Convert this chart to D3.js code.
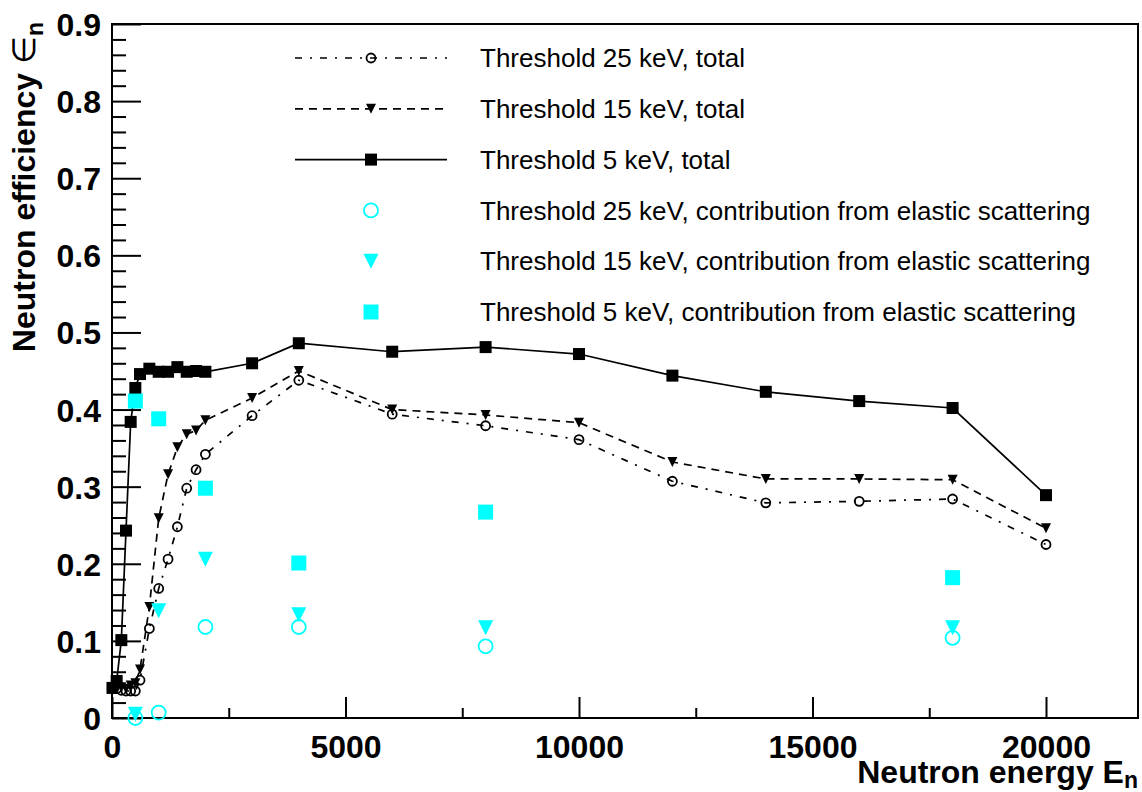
<!DOCTYPE html>
<html>
<head>
<meta charset="utf-8">
<script src="https://cdn.jsdelivr.net/npm/d3@7"></script>
<style>
    body { margin: 0; background: #fff; }
    svg { display: block; font-family: "Liberation Sans", Arial, Helvetica, sans-serif; }
</style>
</head>
<body>
<svg id="chart"></svg>
<script>
// neutron energies (keV) shared by the three "total" curves
const energies = [10, 100, 200, 300, 400, 500, 600, 800, 1000, 1200, 1400, 1600, 1800, 2000,
    3000, 4000, 6000, 8000, 10000, 12000, 14000, 16000, 18000, 20000];
const total25 = [0.038, 0.038, 0.036, 0.035, 0.035, 0.035, 0.049, 0.116, 0.168, 0.206, 0.248, 0.298, 0.322, 0.342,
    0.392, 0.438, 0.394, 0.379, 0.361, 0.307, 0.279, 0.281, 0.284, 0.225];
const total15 = [0.040, 0.040, 0.040, 0.038, 0.042, 0.045, 0.063, 0.144, 0.259, 0.316, 0.351, 0.368, 0.373, 0.386,
    0.415, 0.450, 0.400, 0.393, 0.383, 0.332, 0.310, 0.310, 0.309, 0.246];
const total5 = [0.039, 0.048, 0.101, 0.243, 0.384, 0.428, 0.446, 0.453, 0.449, 0.449, 0.455, 0.449, 0.450, 0.449,
    0.460, 0.486, 0.475, 0.481, 0.472, 0.444, 0.423, 0.411, 0.402, 0.289];

// elastic scattering contributions
const elasticEnergies = [500, 1000, 2000, 4000, 8000, 18000];
const elastic25 = [0.000, 0.007, 0.118, 0.118, 0.093, 0.104];
const elastic15 = [0.005, 0.139, 0.206, 0.134, 0.117, 0.117];
const elastic5 = [0.411, 0.388, 0.298, 0.201, 0.267, 0.182];

const legendLabels = [
    "Threshold 25 keV, total",
    "Threshold 15 keV, total",
    "Threshold 5 keV, total",
    "Threshold 25 keV, contribution from elastic scattering",
    "Threshold 15 keV, contribution from elastic scattering",
    "Threshold 5 keV, contribution from elastic scattering"
];

const xTicks = [0, 5000, 10000, 15000, 20000];
const yTicks = [0, 0.1, 0.2, 0.3, 0.4, 0.5, 0.6, 0.7, 0.8, 0.9];

const width = 1142, height = 792;
const frame = { left: 112, right: 1138, top: 24, bottom: 718 };
const cyan = "#00ffff";

const svg = d3.select("#chart").attr("width", width).attr("height", height);
svg.append("rect").attr("width", width).attr("height", height).attr("fill", "#fff");

const x = d3.scaleLinear().domain([0, 21970]).range([frame.left, frame.right]);
const y = d3.scaleLinear().domain([0, 0.9]).range([frame.bottom, frame.top]);

// ---- axes, ticks pointing inside like ROOT
const xAxis = svg.append("g").attr("transform", `translate(0, ${frame.bottom})`);
xAxis.call(d3.axisBottom(x).tickValues(xTicks).tickSize(-21).tickPadding(17).tickFormat(d3.format("d")));
const xMinor = svg.append("g").attr("transform", `translate(0, ${frame.bottom})`);
xMinor.call(d3.axisBottom(x).tickValues(d3.range(2500, 21970, 5000)).tickSize(-10).tickFormat(""));

const yAxis = svg.append("g").attr("transform", `translate(${frame.left}, 0)`);
yAxis.call(d3.axisLeft(y).tickValues(yTicks).tickSize(-29).tickFormat(d => d === 0 ? "0" : d3.format(".1f")(d)));
const yMinor = svg.append("g").attr("transform", `translate(${frame.left}, 0)`);
yMinor.call(d3.axisLeft(y).tickValues(d3.range(0.02, 0.9, 0.02).filter((v, i) => (i + 1) % 5 !== 0)).tickSize(-14).tickFormat(""));

svg.selectAll(".domain").remove();
svg.selectAll(".tick line").attr("stroke", "#000").attr("stroke-width", 2);
xAxis.selectAll(".tick text")
    .attr("font-size", 32).attr("font-weight", "bold").attr("fill", "#000");
yAxis.selectAll(".tick text")
    .attr("font-size", 32).attr("font-weight", "bold").attr("fill", "#000")
    .attr("x", -11).attr("dy", "0.36em");

// frame
svg.append("rect")
    .attr("x", frame.left).attr("y", frame.top)
    .attr("width", frame.right - frame.left).attr("height", frame.bottom - frame.top)
    .attr("fill", "none").attr("stroke", "#000").attr("stroke-width", 2);

// axis titles
const xTitle = svg.append("text")
    .attr("x", frame.right).attr("y", 783)
    .attr("text-anchor", "end").attr("font-size", 32).attr("font-weight", "bold");
xTitle.append("tspan").text("Neutron energy E");
xTitle.append("tspan").attr("dy", 5).attr("font-size", 23).text("n");

const yTitle = svg.append("text")
    .attr("transform", `translate(35, ${frame.top - 2}) rotate(-90)`)
    .attr("text-anchor", "end").attr("font-size", 32).attr("font-weight", "bold");
yTitle.append("tspan").text("Neutron efficiency ");
yTitle.append("tspan").attr("font-weight", "normal").text("\u2208");
yTitle.append("tspan").attr("dy", 8).attr("font-size", 23).text("n");

// ---- marker shapes
function marker(g, kind, size, color) {
    const s = size / 2;
    if (kind === "square") {
        return g.append("rect").attr("x", -s).attr("y", -s).attr("width", size).attr("height", size).attr("fill", color);
    }
    if (kind === "circle") {
        return g.append("circle").attr("r", s - 1).attr("fill", "none").attr("stroke", color).attr("stroke-width", 1.8);
    }
    return g.append("path").attr("d", `M${-s},${-s}L${s},${-s}L0,${s}Z`).attr("fill", color);
}

const series = [
    { values: total25, dash: "7,8,2,8", kind: "circle", size: 11, color: "#000", xs: energies },
    { values: total15, dash: "8,6", kind: "triangle", size: 10, color: "#000", xs: energies },
    { values: total5, dash: null, kind: "square", size: 12, color: "#000", xs: energies },
    { values: elastic25, dash: null, kind: "circle", size: 16, color: cyan, xs: elasticEnergies, noLine: true },
    { values: elastic15, dash: null, kind: "triangle", size: 15, color: cyan, xs: elasticEnergies, noLine: true },
    { values: elastic5, dash: null, kind: "square", size: 15, color: cyan, xs: elasticEnergies, noLine: true }
];

const line = d3.line().x(d => x(d[0])).y(d => y(d[1]));
const plot = svg.append("g");

series.forEach(s => {
    const pts = s.xs.map((e, i) => [e, s.values[i]]);
    if (!s.noLine) {
        plot.append("path").datum(pts).attr("d", line)
            .attr("fill", "none").attr("stroke", "#000").attr("stroke-width", 1.7)
            .attr("stroke-dasharray", s.dash);
    }
});
series.forEach(s => {
    s.xs.forEach((e, i) => {
        const g = plot.append("g").attr("transform", `translate(${x(e)}, ${y(s.values[i])})`);
        marker(g, s.kind, s.size, s.color);
    });
});

// ---- legend
const legend = svg.append("g");
legendLabels.forEach((label, i) => {
    const s = series[i];
    const ly = 58 + i * 50.8;
    if (!s.noLine) {
        legend.append("line").attr("x1", 295).attr("x2", 447).attr("y1", ly).attr("y2", ly)
            .attr("stroke", "#000").attr("stroke-width", 1.7).attr("stroke-dasharray", s.dash);
    }
    const g = legend.append("g").attr("transform", `translate(371, ${ly})`);
    marker(g, s.kind, s.size, s.color);
    legend.append("text").attr("x", 480).attr("y", ly).attr("dy", "0.35em")
        .attr("font-size", 26).text(label);
});
</script>
</body>
</html>
